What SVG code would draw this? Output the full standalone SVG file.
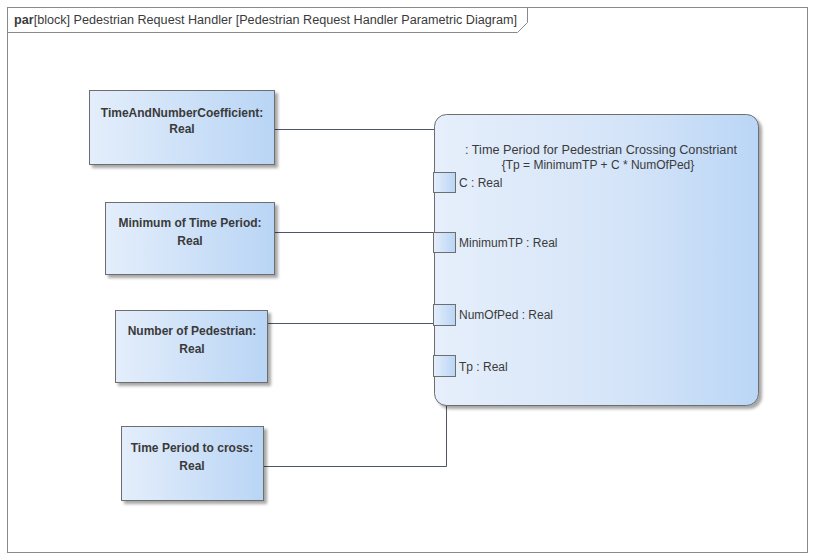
<svg xmlns="http://www.w3.org/2000/svg" width="814" height="559" viewBox="0 0 814 559">
<defs>
<linearGradient id="g" x1="0" y1="0" x2="1" y2="0">
<stop offset="0" stop-color="#e4eefb"/>
<stop offset="1" stop-color="#b9d5f5"/>
</linearGradient>
<linearGradient id="gb" x1="0" y1="0" x2="1" y2="0">
<stop offset="0" stop-color="#e6effb"/>
<stop offset="0.6" stop-color="#d4e4f8"/>
<stop offset="1" stop-color="#bad6f6"/>
</linearGradient>
<filter id="sh" x="-10%" y="-10%" width="130%" height="130%">
<feGaussianBlur in="SourceAlpha" stdDeviation="1.5"/>
<feOffset dx="3" dy="3"/>
<feComponentTransfer><feFuncA type="linear" slope="0.35"/></feComponentTransfer>
<feMerge><feMergeNode/><feMergeNode in="SourceGraphic"/></feMerge>
</filter>
</defs>
<style>
.blk{fill:url(#g);stroke:#6e6e6e;stroke-width:1}
.t{font-family:"Liberation Sans",Arial,sans-serif;font-size:12px;font-weight:bold;fill:#3a3a3a;text-anchor:middle}
.p{font-family:"Liberation Sans",Arial,sans-serif;font-size:12px;fill:#3a3a3a}
.port{fill:url(#g);stroke:#6e6e6e;stroke-width:1}
.c{fill:none;stroke:#4e5566;stroke-width:1}
</style>
<rect width="814" height="559" fill="#ffffff"/>
<g id="frame">
<rect x="7.5" y="7.5" width="800" height="545" fill="none" stroke="#8a8a8a"/>
<path d="M7.5 32.5 H517.5 L527.5 22.5 V7.5" fill="none" stroke="#8a8a8a"/>
<text x="14" y="24" class="p" font-size="12.5" textLength="503" lengthAdjust="spacingAndGlyphs"><tspan font-weight="bold">par</tspan>[block] Pedestrian Request Handler [Pedestrian Request Handler Parametric Diagram]</text>
</g>
<g id="connectors">
<polyline class="c" points="275,129.5 434,129.5"/>
<polyline class="c" points="275,232.5 434,232.5"/>
<polyline class="c" points="268,323.5 434,323.5"/>
<polyline class="c" points="264,466.5 446.5,466.5 446.5,377"/>
</g>
<g id="constraint">
<rect x="434.5" y="114.5" width="324" height="291" rx="12" fill="url(#gb)" stroke="#6e6e6e" filter="url(#sh)"/>
<text x="601" y="154" class="p" text-anchor="middle" textLength="272" lengthAdjust="spacingAndGlyphs">: Time Period for Pedestrian Crossing Constriant</text>
<text x="598" y="169" class="p" text-anchor="middle">{Tp = MinimumTP + C * NumOfPed}</text>
<g id="portC"><rect class="port" x="433.5" y="172.5" width="22" height="20"/><text x="459" y="187" class="p">C : Real</text></g>
<g id="portMin"><rect class="port" x="433.5" y="232.5" width="22" height="20"/><text x="459" y="247" class="p">MinimumTP : Real</text></g>
<g id="portNum"><rect class="port" x="433.5" y="304.5" width="22" height="21"/><text x="459" y="319" class="p">NumOfPed : Real</text></g>
<g id="portTp"><rect class="port" x="433.5" y="355.5" width="22" height="21"/><text x="459" y="371" class="p">Tp : Real</text></g>
</g>
<g id="coef">
<rect class="blk" x="89.5" y="90.5" width="185" height="74" filter="url(#sh)"/>
<text x="182" y="117" class="t">TimeAndNumberCoefficient:</text>
<text x="182" y="133" class="t">Real</text>
</g>
<g id="minTime">
<rect class="blk" x="105.5" y="202.5" width="169" height="72" filter="url(#sh)"/>
<text x="190" y="227" class="t">Minimum of Time Period:</text>
<text x="190" y="245" class="t">Real</text>
</g>
<g id="numPed">
<rect class="blk" x="115.5" y="310.5" width="152" height="72" filter="url(#sh)"/>
<text x="192" y="335" class="t">Number of Pedestrian:</text>
<text x="192" y="353" class="t">Real</text>
</g>
<g id="tpCross">
<rect class="blk" x="121.5" y="426.5" width="142" height="74" filter="url(#sh)"/>
<text x="192" y="452" class="t">Time Period to cross:</text>
<text x="192" y="470" class="t">Real</text>
</g>
</svg>
